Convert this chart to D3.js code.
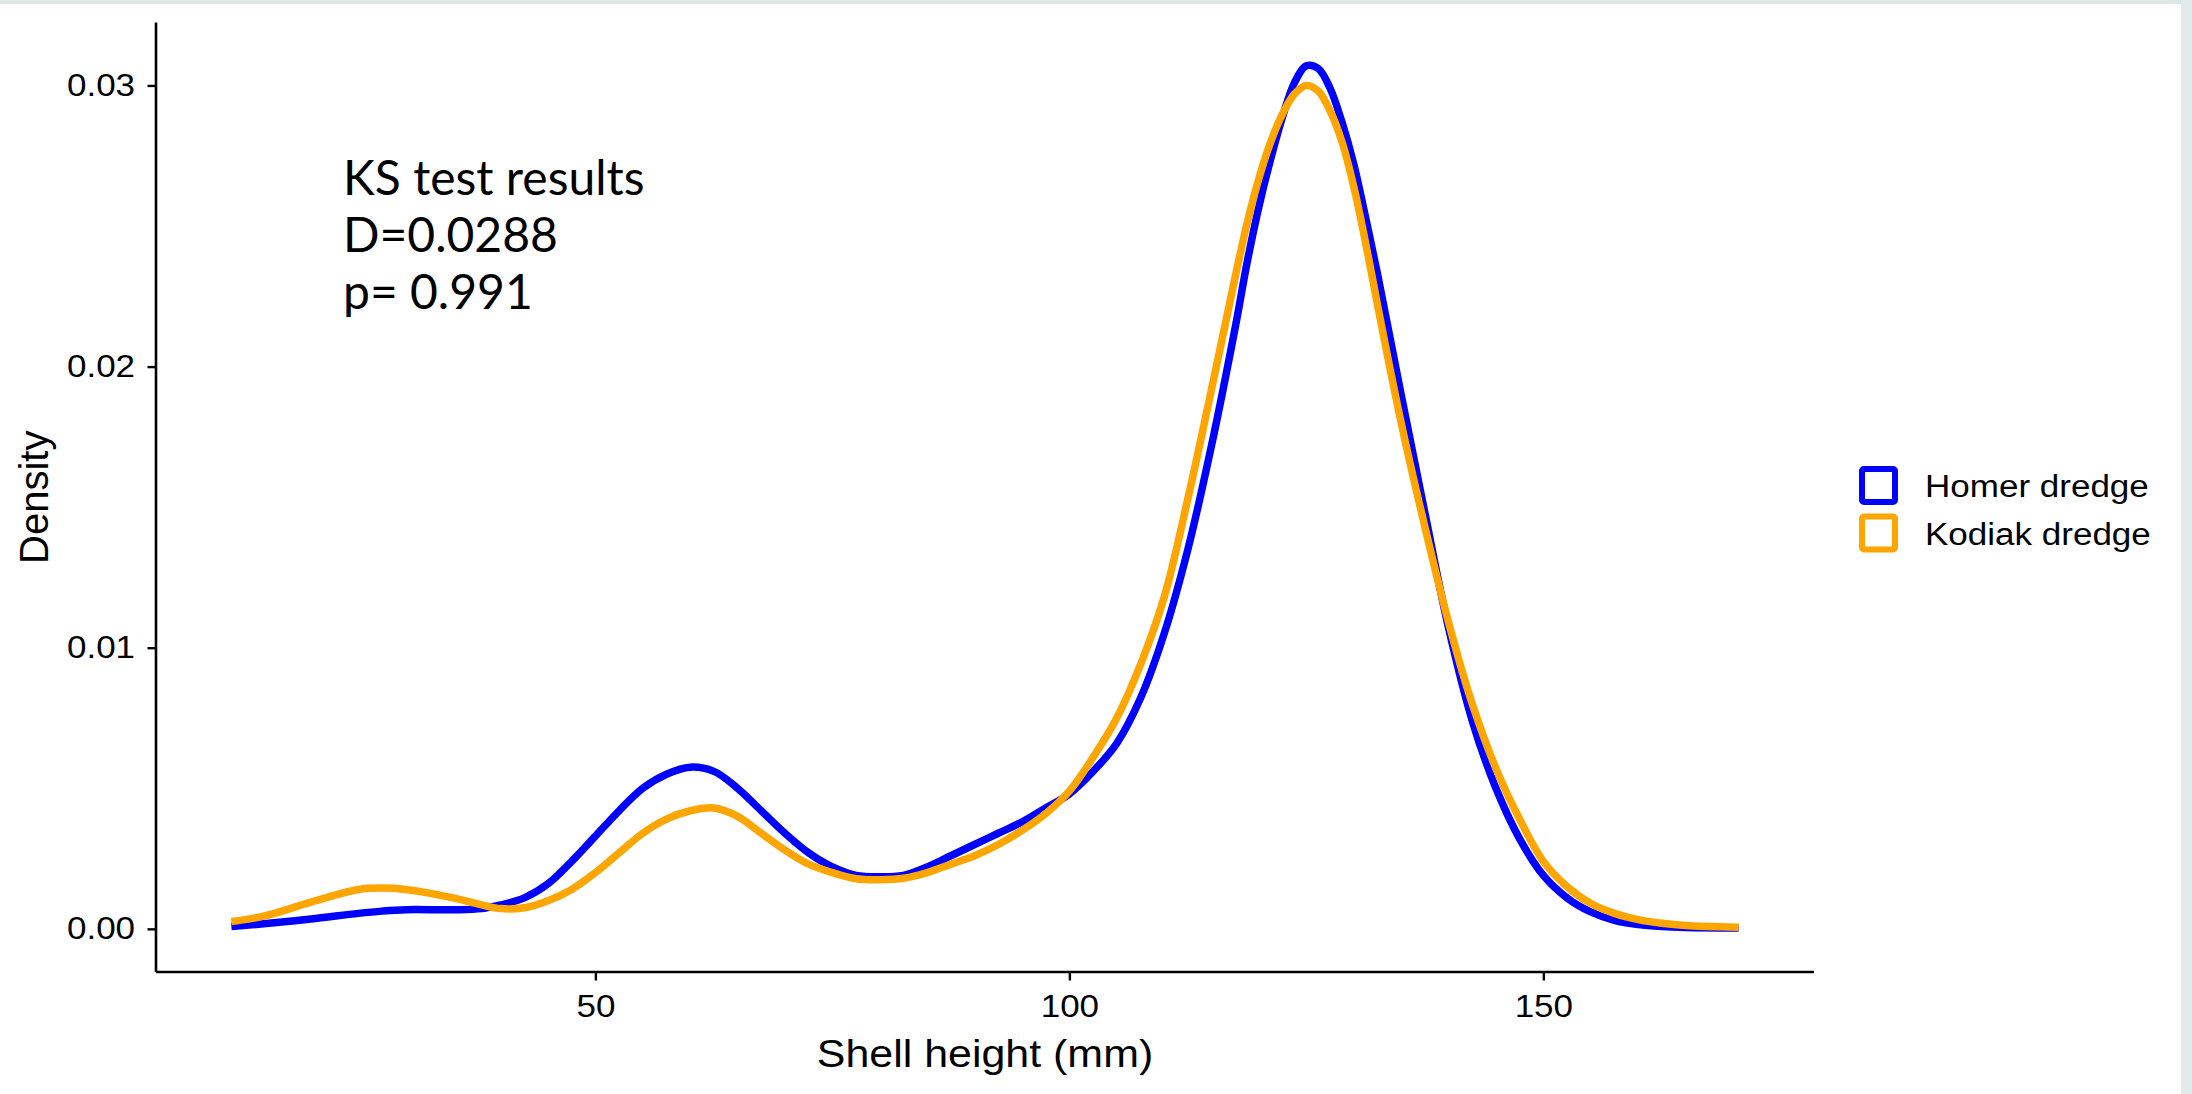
<!DOCTYPE html>
<html>
<head>
<meta charset="utf-8">
<script src="https://cdn.jsdelivr.net/npm/d3@7"></script>
<style>
  html, body { margin: 0; padding: 0; background: #ffffff; }
  svg { display: block; }
</style>
</head>
<body>
<svg id="chart" width="2192" height="1094"></svg>
<script>
// ---- data ----
const shellHeight = [11.6, 15, 20, 25, 27.5, 30, 35, 38, 40, 42.5, 45, 47.5, 50, 52.5, 55, 57.5, 60, 62.5, 65, 67.5,
  70, 72.5, 75, 77.5, 80, 82.5, 85, 87.5, 90, 92.5, 95, 97.5, 100, 102.5, 105, 107.5, 110, 112.5, 115,
  117.5, 118.75, 120, 121.25, 122.5, 123.75, 125, 126.25, 127.5, 128.75, 130, 131.25, 132.5,
  135, 137.5, 140, 142.5, 145, 147.5, 150, 152.5, 155, 157.5, 160, 162.5, 165, 170.6];

const homerDensity = [0.00008, 0.00018, 0.00035, 0.00055, 0.00063, 0.00068, 0.00068, 0.00072, 0.00085, 0.0011,
  0.0016, 0.0024, 0.0033, 0.0042, 0.0050, 0.0055, 0.00575, 0.0056, 0.0050, 0.0042,
  0.0034, 0.0027, 0.0022, 0.0019, 0.00185, 0.0019, 0.0022, 0.0026, 0.0030, 0.0034,
  0.0038, 0.0043, 0.0048, 0.0056, 0.0066, 0.0082, 0.0105, 0.0135, 0.0172,
  0.0214, 0.0237, 0.0257, 0.0274, 0.0289, 0.0301, 0.0307, 0.0306, 0.0299, 0.0287, 0.0272, 0.0253, 0.0233,
  0.0190, 0.0148, 0.0107, 0.0074, 0.0050, 0.0032, 0.0019, 0.0011, 0.0006, 0.0003, 0.00015, 0.00008, 0.00005, 0.00003];

const kodiakDensity = [0.00026, 0.00045, 0.00095, 0.0014, 0.00145, 0.0014, 0.0011, 0.00085, 0.00072, 0.00075,
  0.0010, 0.0014, 0.0020, 0.0027, 0.0034, 0.0039, 0.0042, 0.0043, 0.0040, 0.0034,
  0.0028, 0.0023, 0.0020, 0.00178, 0.00175, 0.0018, 0.0020, 0.0023, 0.0026, 0.0030,
  0.0035, 0.0041, 0.0049, 0.0061, 0.0075, 0.0094, 0.0118, 0.0153, 0.0192,
  0.0232, 0.0251, 0.0267, 0.0280, 0.0290, 0.0297, 0.0300, 0.0298, 0.0291, 0.0280, 0.0264, 0.0244, 0.0222,
  0.0180, 0.0143, 0.0109, 0.0080, 0.0057, 0.0039, 0.0024, 0.0015, 0.0009, 0.00055, 0.00033, 0.0002, 0.00012, 0.00006];

const seriesNames = ["Homer dredge", "Kodiak dredge"];
const seriesColors = ["#0000FF", "#FFA500"];
const xTicks = [50, 100, 150];
const yTicks = [0.00, 0.01, 0.02, 0.03];
const annotationLines = ["KS test results", "D=0.0288", "p= 0.991"];
const xTitle = "Shell height (mm)";
const yTitle = "Density";

// ---- layout ----
const svg = d3.select("#chart");
const W = 2192, H = 1094;
const plot = { left: 156, right: 1814, top: 22.6, bottom: 972 };
const stretch = 1.13; // the reference text is slightly wider than plain Arial

// faint background strips at the picture edges
svg.append("rect").attr("x", 0).attr("y", 0).attr("width", W).attr("height", 4).attr("fill", "#dfe7e6");
svg.append("rect").attr("x", 2181).attr("y", 0).attr("width", 11).attr("height", H).attr("fill", "#e3eaea");

const xExt = d3.extent(shellHeight);
const xPad = (xExt[1] - xExt[0]) * 0.05;
const x = d3.scaleLinear().domain([xExt[0] - xPad, xExt[1] + xPad]).range([plot.left, plot.right]);

const yMax = d3.max(homerDensity.concat(kodiakDensity));
const yPad = yMax * 0.05;
const y = d3.scaleLinear().domain([-yPad, yMax + yPad]).range([plot.bottom, plot.top]);

const fontAxis = "'Liberation Sans', Arial, Helvetica, sans-serif";

// ---- axes ----
const xAxis = d3.axisBottom(x).tickValues(xTicks).tickSize(8.5).tickPadding(15).tickFormat(d3.format("d"));
const gx = svg.append("g").attr("transform", `translate(0,${plot.bottom})`).call(xAxis);
gx.select(".domain").attr("stroke", "#000").attr("stroke-width", 2.6).attr("d", `M${plot.left},0H${plot.right}`);
gx.selectAll(".tick line").attr("stroke", "#000").attr("stroke-width", 2.4);
gx.selectAll(".tick text").attr("font-family", fontAxis).attr("font-size", 31).attr("fill", "#000")
  .attr("transform", `scale(${stretch},1)`);

const yAxis = d3.axisLeft(y).tickValues(yTicks).tickSize(8.5).tickPadding(10).tickFormat(d3.format(".2f"));
const gy = svg.append("g").attr("transform", `translate(${plot.left},0)`).call(yAxis);
gy.select(".domain").attr("stroke", "#000").attr("stroke-width", 2.6).attr("d", `M0,${plot.top}V${plot.bottom}`);
gy.selectAll(".tick line").attr("stroke", "#000").attr("stroke-width", 2.4);
gy.selectAll(".tick text").attr("font-family", fontAxis).attr("font-size", 31).attr("fill", "#000")
  .attr("transform", `scale(${stretch},1)`);

// axis titles
svg.append("g").attr("transform", `translate(${(plot.left + plot.right) / 2},1067) scale(${stretch},1)`)
  .append("text").attr("text-anchor", "middle").attr("font-family", fontAxis).attr("font-size", 38)
  .attr("fill", "#000").text(xTitle);
svg.append("text").attr("transform", `translate(48,${(plot.top + plot.bottom) / 2}) rotate(-90)`)
  .attr("text-anchor", "middle").attr("font-family", fontAxis).attr("font-size", 40).attr("fill", "#000")
  .text(yTitle);

// ---- density lines ----
const series = [homerDensity, kodiakDensity];
const line = d3.line()
  .x((d, i) => x(shellHeight[i]))
  .y(d => y(d))
  .curve(d3.curveCatmullRom.alpha(0.5));

series.forEach((vals, k) => {
  svg.append("path").datum(vals)
    .attr("d", line)
    .attr("fill", "none")
    .attr("stroke", seriesColors[k])
    .attr("stroke-width", 7.5)
    .attr("stroke-linejoin", "round")
    .attr("stroke-linecap", "butt");
});

// ---- annotation ----
const ann = svg.append("text").attr("font-family", "Lato, 'Open Sans', sans-serif").attr("font-size", 48).attr("fill", "#000");
annotationLines.forEach((t, i) => {
  ann.append("tspan").attr("x", 343).attr("y", 195 + i * 57).text(t);
});

// ---- legend ----
const legend = svg.append("g").attr("transform", "translate(1859,466)");
seriesNames.forEach((name, i) => {
  const g = legend.append("g").attr("transform", `translate(0,${i * 47.5})`);
  g.append("rect").attr("x", 3).attr("y", 3).attr("width", 33).attr("height", 33)
    .attr("rx", 2).attr("fill", "#fff").attr("stroke", seriesColors[i]).attr("stroke-width", 6);
  g.append("g").attr("transform", `translate(66,31) scale(${stretch},1)`)
    .append("text").attr("font-family", fontAxis).attr("font-size", 31)
    .attr("fill", "#000").text(name);
});
</script>
</body>
</html>
